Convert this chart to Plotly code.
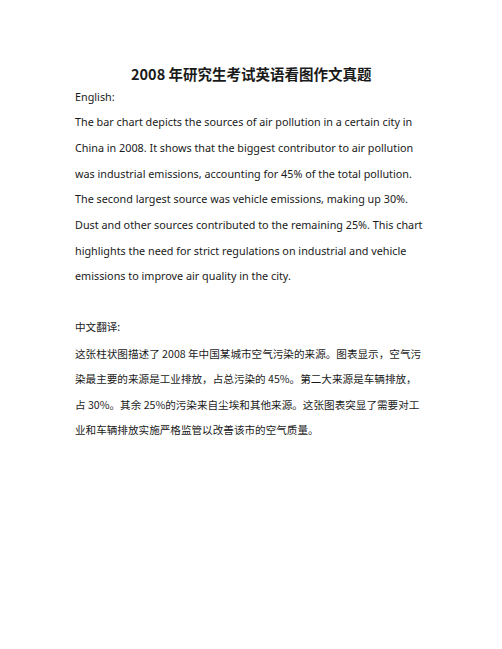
import plotly.graph_objects as go

# the page body keeps its default 8px margin, so the figure is drawn a bit smaller
PAGE_W, PAGE_H = 502, 649
PAD = 8
W, H = PAGE_W - 2 * PAD, PAGE_H - 2 * PAD

title = "2008 年研究生考试英语看图作文真题"

en_label = "English:"
en_lines = [
    "The bar chart depicts the sources of air pollution in a certain city in",
    "China in 2008. It shows that the biggest contributor to air pollution",
    "was industrial emissions, accounting for 45% of the total pollution.",
    "The second largest source was vehicle emissions, making up 30%.",
    "Dust and other sources contributed to the remaining 25%. This chart",
    "highlights the need for strict regulations on industrial and vehicle",
    "emissions to improve air quality in the city.",
]

zh_label = "中文翻译:"
zh_lines = [
    "这张柱状图描述了 2008 年中国某城市空气污染的来源。图表显示，空气污",
    "染最主要的来源是工业排放，占总污染的 45%。第二大来源是车辆排放，",
    "占 30%。其余 25%的污染来自尘埃和其他来源。这张图表突显了需要对工",
    "业和车辆排放实施严格监管以改善该市的空气质量。",
]

EN_FONT = "Noto Sans, Open Sans, sans-serif"
ZH_FONT = "Noto Sans CJK SC, sans-serif"
INK = "#1a1a1a"

fig = go.Figure()
ann = []


def add(text, px, py, size, family, bold=False, anchor="left"):
    # px, py are page pixels
    ann.append(dict(
        text=f"<b>{text}</b>" if bold else text,
        x=(px - PAD) / W, y=1 - (py - PAD) / H, xref="paper", yref="paper",
        xanchor=anchor, yanchor="middle", showarrow=False,
        font=dict(size=size, family=family, color=INK),
    ))


# title
add(title, 251, 73, 14.5, ZH_FONT, bold=True, anchor="center")

# english paragraph
left = 73
add(en_label, left, 96, 10.8, EN_FONT)
y = 122
for line in en_lines:
    add(line, left, y, 10.8, EN_FONT)
    y += 25.6

# chinese paragraph
add(zh_label, left, 326, 10.6, ZH_FONT)
y = 353
for line in zh_lines:
    add(line, left, y, 10.6, ZH_FONT)
    y += 25.5

fig.update_layout(
    width=W, height=H,
    margin=dict(l=0, r=0, t=0, b=0),
    paper_bgcolor="white", plot_bgcolor="white",
    xaxis=dict(visible=False), yaxis=dict(visible=False),
    annotations=ann,
    showlegend=False,
)

fig.write_html("out.html")
